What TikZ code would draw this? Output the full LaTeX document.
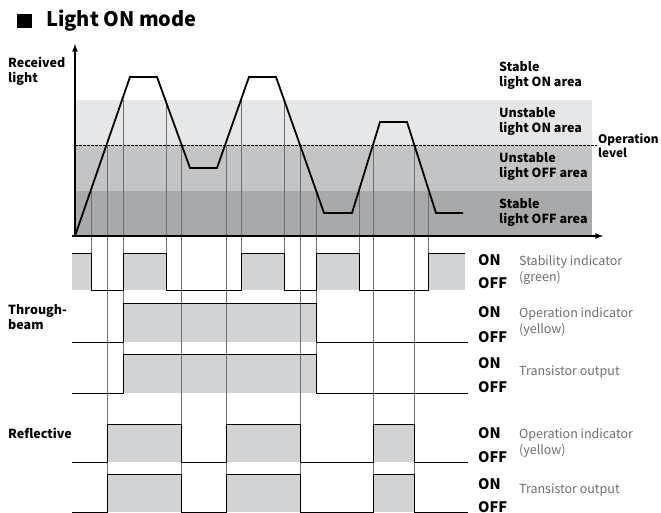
\documentclass[tikz,border=0pt]{standalone}
\usepackage{fontspec}
\setmainfont{Noto Sans CJK JP}
\usepackage{tikz}

\definecolor{bandA}{HTML}{E6E7E8}
\definecolor{bandB}{HTML}{C3C4C6}
\definecolor{bandC}{HTML}{A8A9AB}
\definecolor{pulse}{HTML}{D1D3D4}
\definecolor{guidegray}{HTML}{6D6E71}
\definecolor{note}{HTML}{6D6E71}

\begin{document}
\begin{tikzpicture}[x=1pt, y=-1pt, inner sep=0pt,
        lbl/.style={font=\bfseries\fontsize{12.5}{15}\selectfont, align=left, anchor=west},
        onoff/.style={font=\bfseries\fontsize{14.5}{16}\selectfont, anchor=west},
        desc/.style={font=\fontsize{12.5}{16}\selectfont, text=note, align=left, anchor=west},
        guide/.style={draw=guidegray, line width=0.9pt},
        sig/.style={line width=0.9pt},
        pulsefill/.style={fill=pulse}]
        \useasboundingbox (0,0) rectangle (661,513);

        % title
        \fill (17,14) rectangle (32,28);
        \node[anchor=west, font=\bfseries\fontsize{20}{22}\selectfont](Title) at (46,21) {Light ON mode};

        % areas
        \fill[bandA] (75,100) rectangle (592,145);
        \fill[bandB] (75,145) rectangle (592,191);
        \fill[bandC] (75,191) rectangle (592,236);
        \draw[dash pattern=on 2.5pt off 1.5pt, line width=0.8pt] (75,145) -- (597,145);

        % shaded ON parts
        \fill[pulsefill] (72,253) rectangle (91,290);
        \fill[pulsefill] (123,253) rectangle (166,290);
        \fill[pulsefill] (241,253) rectangle (284,290);
        \fill[pulsefill] (316,253) rectangle (359,290);
        \fill[pulsefill] (428,253) rectangle (465,290);
        \fill[pulsefill] (123,303) rectangle (316,342);
        \fill[pulsefill] (123,354) rectangle (316,393);
        \fill[pulsefill] (107,424) rectangle (181,462);
        \fill[pulsefill] (226,424) rectangle (300,462);
        \fill[pulsefill] (373,424) rectangle (414,462);
        \fill[pulsefill] (107,474) rectangle (181,512);
        \fill[pulsefill] (226,474) rectangle (300,512);
        \fill[pulsefill] (373,474) rectangle (414,512);

        % guide lines
        \draw[guide] (91,191) -- (91,290);
        \draw[guide] (123,100) -- (123,393);
        \draw[guide] (166,100) -- (166,290);
        \draw[guide] (241,100) -- (241,290);
        \draw[guide] (284,100) -- (284,290);
        \draw[guide] (316,191) -- (316,393);
        \draw[guide] (359,191) -- (359,290);
        \draw[guide] (428,191) -- (428,290);
        \draw[guide] (107,145) -- (107,512);
        \draw[guide] (181,145) -- (181,512);
        \draw[guide] (226,145) -- (226,512);
        \draw[guide] (300,145) -- (300,512);
        \draw[guide] (373,145) -- (373,512);
        \draw[guide] (414,145) -- (414,512);

        % axes
        \coordinate (Origin) at (75,236);
        \coordinate (Ytop) at (75,44);
        \coordinate (Xstart) at (72,236);
        \coordinate (Xend) at (603,236);
        \draw[-latex, line width=1.6pt] (Origin) -- (Ytop);
        \draw[-latex, line width=1.6pt] (Xstart) -- (Xend);

        % received light
        \draw[line width=1.8pt] (Origin) -- (130,77) -- (157,77) -- (190,168) -- (217,168) -- (249,77) -- (276,77)
            -- (324,213) -- (352,213) -- (380,122) -- (407,122) -- (436,213) -- (463,213);

        % signals
        \draw[sig] (72,253) -- (91,253) -- (91,290) -- (123,290) -- (123,253) -- (166,253) -- (166,290) -- (241,290)
            -- (241,253) -- (284,253) -- (284,290) -- (316,290) -- (316,253) -- (359,253) -- (359,290) -- (428,290)
            -- (428,253) -- (465,253);
        \draw[sig] (72,342) -- (123,342) -- (123,303) -- (316,303) -- (316,342) -- (468,342);
        \draw[sig] (72,393) -- (123,393) -- (123,354) -- (316,354) -- (316,393) -- (468,393);
        \draw[sig] (72,462) -- (107,462) -- (107,424) -- (181,424) -- (181,462) -- (226,462) -- (226,424) -- (300,424)
            -- (300,462) -- (373,462) -- (373,424) -- (414,424) -- (414,462) -- (468,462);
        \draw[sig] (72,512) -- (107,512) -- (107,474) -- (181,474) -- (181,512) -- (226,512) -- (226,474) -- (300,474)
            -- (300,512) -- (373,512) -- (373,474) -- (414,474) -- (414,512) -- (468,512);

        % area labels
        \node[lbl](Stable ON) at (499,76) {Stable\\light ON area};
        \node[lbl](Unstable ON) at (499,121.5) {Unstable\\light ON area};
        \node[lbl](Unstable OFF) at (499,166.5) {Unstable\\light OFF area};
        \node[lbl](Stable OFF) at (499,212) {Stable\\light OFF area};
        \node[lbl, font=\bfseries\fontsize{11.8}{14}\selectfont](Operation level) at (598,145.5) {Operation\\level};

        % left labels
        \node[lbl](Received light) at (8,71.5) {Received\\light};
        \node[lbl](Through-beam) at (8,317.5) {Through-\\beam};
        \node[lbl](Reflective) at (8,433) {Reflective};

        % ON/OFF
        \node[onoff](On1) at (478,260) {ON};
        \node[onoff](Off1) at (478,283) {OFF};
        \node[onoff](On2) at (478,312) {ON};
        \node[onoff](Off2) at (478,337) {OFF};
        \node[onoff](On3) at (478,363) {ON};
        \node[onoff](Off3) at (478,387) {OFF};
        \node[onoff](On4) at (478,433) {ON};
        \node[onoff](Off4) at (478,457) {OFF};
        \node[onoff](On5) at (478,484) {ON};
        \node[onoff](Off5) at (478,507) {OFF};

        % indicators
        \node[desc](Stability indicator) at (519,270) {Stability indicator\\(green)};
        \node[desc](Operation indicator) at (519,322) {Operation indicator\\(yellow)};
        \node[desc](Transistor output) at (519,372) {Transistor output};
        \node[desc](Operation indicator 2) at (519,442.5) {Operation indicator\\(yellow)};
        \node[desc](Transistor output 2) at (519,490) {Transistor output};
    \end{tikzpicture}
\end{document}
